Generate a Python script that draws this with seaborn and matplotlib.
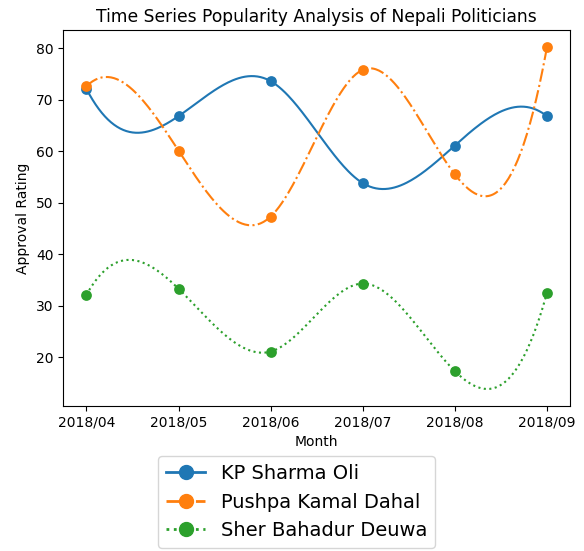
import numpy as np
import pandas as pd
import matplotlib
matplotlib.use("Agg")
import matplotlib.pyplot as plt
from matplotlib.lines import Line2D
import seaborn as sns

months = ["2018/04", "2018/05", "2018/06", "2018/07", "2018/08", "2018/09"]
politicians = ["KP Sharma Oli", "Pushpa Kamal Dahal", "Sher Bahadur Deuwa"]
oli = [72.1, 66.8, 73.6, 53.8, 61.1, 66.8]
dahal = [72.6, 60.1, 47.3, 75.8, 55.5, 80.2]
deuwa = [32.1, 33.3, 21.1, 34.3, 17.3, 32.5]

colors = ["#1f77b4", "#ff7f0e", "#2ca02c"]
dashes = ["-", "-.", ":"]


def not_a_knot_spline(x, y, xs):
    """Cubic interpolating spline with not-a-knot end conditions."""
    x = np.asarray(x, float)
    y = np.asarray(y, float)
    n = len(x)
    h = np.diff(x)
    A = np.zeros((n, n))
    b = np.zeros(n)
    # not-a-knot at the start
    A[0, 0] = -1 / h[0]
    A[0, 1] = 1 / h[0] + 1 / h[1]
    A[0, 2] = -1 / h[1]
    for i in range(1, n - 1):
        A[i, i - 1] = h[i - 1]
        A[i, i] = 2 * (h[i - 1] + h[i])
        A[i, i + 1] = h[i]
        b[i] = 6 * ((y[i + 1] - y[i]) / h[i] - (y[i] - y[i - 1]) / h[i - 1])
    # not-a-knot at the end
    A[-1, -3] = -1 / h[-2]
    A[-1, -2] = 1 / h[-2] + 1 / h[-1]
    A[-1, -1] = -1 / h[-1]
    M = np.linalg.solve(A, b)
    idx = np.clip(np.searchsorted(x, xs) - 1, 0, n - 2)
    x0, x1 = x[idx], x[idx + 1]
    hh = x1 - x0
    t0 = x1 - xs
    t1 = xs - x0
    return (M[idx] * t0 ** 3 / (6 * hh) + M[idx + 1] * t1 ** 3 / (6 * hh)
            + (y[idx] / hh - M[idx] * hh / 6) * t0
            + (y[idx + 1] / hh - M[idx + 1] * hh / 6) * t1)


xpos = np.arange(len(months))
xs = np.linspace(0, len(months) - 1, 300)

fig = plt.figure(figsize=(5.84, 5.51), dpi=100)
ax = fig.add_axes([0.1085, 0.263, 0.8675, 0.6825])

handles = []
for name, vals, c, ls in zip(politicians, [oli, dahal, deuwa], colors, dashes):
    smooth = pd.DataFrame({"x": xs, "y": not_a_knot_spline(xpos, vals, xs)})
    pts = pd.DataFrame({"x": xpos, "y": vals})
    sns.lineplot(data=smooth, x="x", y="y", ax=ax, color=c, linestyle=ls,
                 linewidth=1.5, estimator=None, sort=False)
    sns.scatterplot(data=pts, x="x", y="y", ax=ax, color=c, s=60,
                    edgecolor=c, linewidth=0, zorder=3)
    handles.append(Line2D([], [], color=c, linestyle=ls, linewidth=2,
                          marker="o", markersize=10, label=name))

ax.set_xticks(xpos)
ax.set_xticklabels(months)
ax.set_xlabel("Month")
ax.set_ylabel("Approval Rating")
ax.set_title("Time Series Popularity Analysis of Nepali Politicians", fontsize=12.3)
ax.set_yticks([20, 30, 40, 50, 60, 70, 80])

fig.legend(handles=handles, loc="upper center", bbox_to_anchor=(0.508, 0.190),
           fontsize=14, numpoints=1)

fig.savefig("out.png", dpi=100)
